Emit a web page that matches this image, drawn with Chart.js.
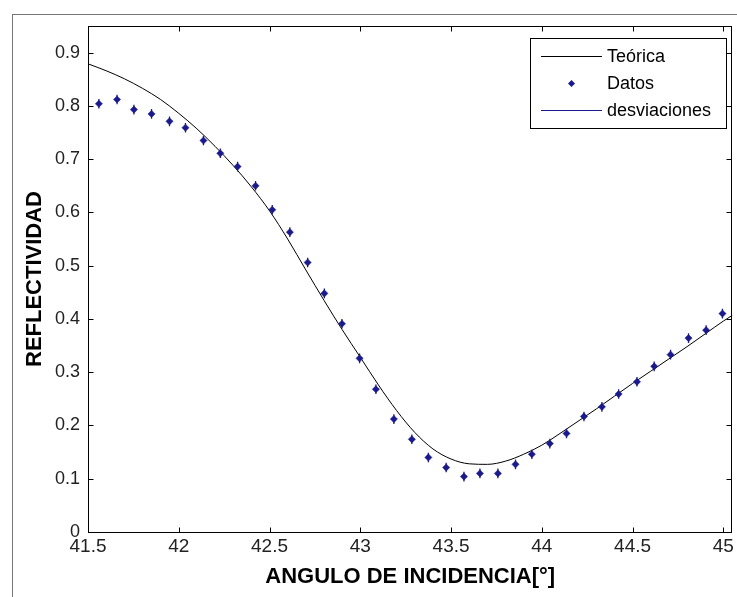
<!DOCTYPE html>
<html>
<head>
<meta charset="utf-8">
<script src="https://cdn.jsdelivr.net/npm/chart.js@4.4.1/dist/chart.umd.min.js"></script>
<style>
  html, body { margin: 0; padding: 0; background: #ffffff; }
</style>
</head>
<body>
<canvas id="reflChart" width="737" height="597"></canvas>
<script>
// curva teorica
const teoX = [41.5, 41.6, 41.7, 41.8, 41.9, 42.0, 42.1, 42.2, 42.3, 42.4, 42.5, 42.6, 42.7, 42.8, 42.9, 43.0, 43.1, 43.2, 43.3, 43.4, 43.5, 43.6, 43.7, 43.8, 43.9, 44.0, 44.1, 44.2, 44.3, 44.4, 44.5, 44.6, 44.7, 44.8, 44.9, 45.0, 45.05];
const teoY = [0.879, 0.866, 0.851, 0.833, 0.812, 0.786, 0.757, 0.724, 0.688, 0.648, 0.603, 0.55, 0.492, 0.435, 0.38, 0.328, 0.276, 0.228, 0.187, 0.156, 0.137, 0.128, 0.127, 0.133, 0.146, 0.163, 0.185, 0.208, 0.231, 0.255, 0.279, 0.302, 0.325, 0.348, 0.372, 0.396, 0.407];

// datos medidos
const datosX = [41.56, 41.66, 41.753, 41.85, 41.949, 42.037, 42.136, 42.229, 42.324, 42.423, 42.515, 42.612, 42.71, 42.802, 42.899, 42.996, 43.086, 43.185, 43.284, 43.375, 43.473, 43.571, 43.659, 43.758, 43.855, 43.945, 44.044, 44.136, 44.232, 44.331, 44.423, 44.524, 44.619, 44.709, 44.808, 44.905, 44.995];
const datosY = [0.804, 0.812, 0.793, 0.785, 0.771, 0.759, 0.735, 0.711, 0.686, 0.65, 0.605, 0.563, 0.506, 0.448, 0.391, 0.326, 0.268, 0.212, 0.174, 0.14, 0.121, 0.104, 0.11, 0.11, 0.127, 0.146, 0.166, 0.185, 0.217, 0.235, 0.259, 0.282, 0.311, 0.333, 0.364, 0.379, 0.41];
const desv = [0.009, 0.009, 0.009, 0.009, 0.009, 0.009, 0.009, 0.009, 0.009, 0.009, 0.009, 0.009, 0.009, 0.009, 0.009, 0.009, 0.009, 0.009, 0.009, 0.009, 0.009, 0.009, 0.009, 0.009, 0.009, 0.009, 0.009, 0.009, 0.009, 0.009, 0.009, 0.009, 0.009, 0.009, 0.009, 0.009, 0.009];

const xTicks = [41.5, 42, 42.5, 43, 43.5, 44, 44.5, 45];
const yTicks = [0, 0.1, 0.2, 0.3, 0.4, 0.5, 0.6, 0.7, 0.8, 0.9];

const fontName = '"Liberation Sans", Arial, sans-serif';
const dataColor = "#1a1a8c";
const lineColor = "#000000";

const teoData = teoX.map((x, i) => ({ x: x, y: teoY[i] }));
const datosData = datosX.map((x, i) => ({ x: x, y: datosY[i] }));
// barras de error: dos puntos y un hueco por cada dato
const desvData = [];
datosX.forEach((x, i) => {
  desvData.push({ x: x, y: datosY[i] - desv[i] });
  desvData.push({ x: x, y: datosY[i] + desv[i] });
  desvData.push({ x: x, y: null });
});

const framePlugin = {
  id: "frame",
  afterDraw(chart) {
    const ctx = chart.ctx;
    const a = chart.chartArea;
    const xs = chart.scales.x;
    const ys = chart.scales.y;
    ctx.save();

    // borde de la figura
    ctx.strokeStyle = "#777777";
    ctx.lineWidth = 1;
    ctx.strokeRect(12.5, 14.5, 900, 900);

    // caja de ejes
    const l = Math.round(a.left) + 0.5, t = Math.round(a.top) + 0.5;
    const r = Math.round(a.right) - 0.5, b = Math.round(a.bottom) + 0.5;
    ctx.strokeStyle = "#000000";
    ctx.strokeRect(l, t, r - l, b - t);

    // marcas hacia dentro
    ctx.beginPath();
    xTicks.forEach((v) => {
      const px = Math.round(xs.getPixelForValue(v)) + 0.5;
      ctx.moveTo(px, b); ctx.lineTo(px, b - 5);
      ctx.moveTo(px, t); ctx.lineTo(px, t + 5);
    });
    yTicks.forEach((v) => {
      const py = Math.round(ys.getPixelForValue(v)) + 0.5;
      ctx.moveTo(l, py); ctx.lineTo(l + 5, py);
      ctx.moveTo(r, py); ctx.lineTo(r - 5, py);
    });
    ctx.stroke();

    // leyenda
    const bx = 530.5, by = 38.5, bw = 196, bh = 90;
    ctx.fillStyle = "#ffffff";
    ctx.fillRect(bx, by, bw, bh);
    ctx.strokeStyle = "#000000";
    ctx.strokeRect(bx, by, bw, bh);
    const rows = [56, 83, 110];
    const sets = chart.data.datasets;
    ctx.font = "18px " + fontName;
    ctx.textBaseline = "middle";
    ctx.textAlign = "left";
    sets.forEach((ds, i) => {
      const y = rows[i] + 0.5;
      if (ds.legendKind === "line") {
        ctx.strokeStyle = ds.borderColor;
        ctx.lineWidth = 1;
        ctx.beginPath();
        ctx.moveTo(541, y); ctx.lineTo(602, y);
        ctx.stroke();
      } else {
        ctx.fillStyle = ds.pointBackgroundColor;
        ctx.beginPath();
        ctx.moveTo(571.5, y - 3.5); ctx.lineTo(575, y);
        ctx.lineTo(571.5, y + 3.5); ctx.lineTo(568, y);
        ctx.closePath();
        ctx.fill();
      }
      ctx.fillStyle = "#000000";
      ctx.fillText(ds.label, 607, rows[i] + 1);
    });
    ctx.restore();
  },
};

const reflChart = new Chart(document.getElementById("reflChart"), {
  type: "scatter",
  data: {
    datasets: [
      {
        label: "Teórica",
        data: teoData,
        showLine: true,
        borderColor: lineColor,
        borderWidth: 1,
        pointRadius: 0,
        cubicInterpolationMode: "monotone",
        legendKind: "line",
        order: 3,
      },
      {
        label: "Datos",
        data: datosData,
        showLine: false,
        pointStyle: "rectRot",
        pointRadius: 3.6,
        pointBackgroundColor: dataColor,
        pointBorderColor: dataColor,
        pointBorderWidth: 0.5,
        legendKind: "marker",
        order: 1,
      },
      {
        label: "desviaciones",
        data: desvData,
        showLine: true,
        spanGaps: false,
        borderColor: dataColor,
        borderWidth: 1.3,
        pointRadius: 0,
        legendKind: "line",
        order: 2,
      },
    ],
  },
  options: {
    responsive: false,
    animation: false,
    events: [],
    layout: {
      padding: { left: 0, top: 26, right: 2, bottom: 0 },
    },
    scales: {
      x: {
        type: "linear",
        min: 41.5,
        max: 45.05,
        afterBuildTicks: (scale) => {
          scale.ticks = xTicks.map((v) => ({ value: v }));
        },
        afterFit: (scale) => {
          scale.height = 65;
        },
        grid: { display: false, drawTicks: false },
        border: { display: false },
        ticks: {
          autoSkip: false,
          maxRotation: 0,
          padding: 3,
          color: "#222222",
          font: { family: fontName, size: 19 },
          callback: (v) => String(v),
        },
        title: {
          display: true,
          text: "ANGULO DE INCIDENCIA[°]",
          color: "#000000",
          font: { family: fontName, size: 22, weight: "bold" },
          padding: { top: 0, bottom: 7 },
        },
      },
      y: {
        type: "linear",
        min: 0,
        max: 0.95,
        afterBuildTicks: (scale) => {
          scale.ticks = yTicks.map((v) => ({ value: v }));
        },
        afterFit: (scale) => {
          scale.width = 88;
        },
        grid: { display: false, drawTicks: false },
        border: { display: false },
        ticks: {
          autoSkip: false,
          padding: 8,
          color: "#222222",
          font: { family: fontName, size: 18 },
          callback: (v) => String(v),
        },
        title: {
          display: true,
          text: "REFLECTIVIDAD",
          color: "#000000",
          font: { family: fontName, size: 22, weight: "bold" },
          padding: { top: 22, bottom: 0 },
        },
      },
    },
    plugins: {
      legend: { display: false },
      tooltip: { enabled: false },
    },
  },
  plugins: [framePlugin],
});
</script>
</body>
</html>
